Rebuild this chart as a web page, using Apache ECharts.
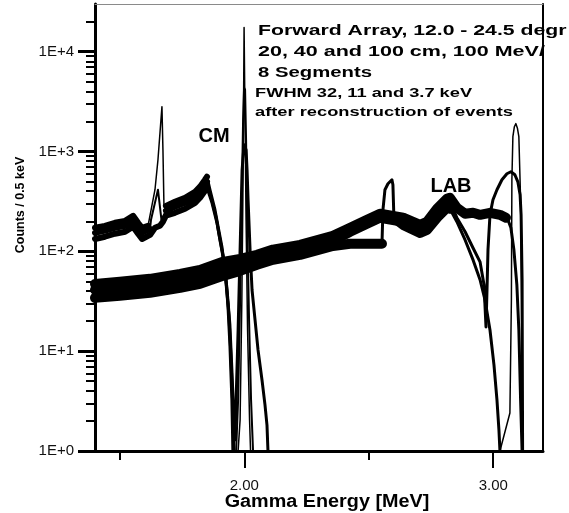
<!DOCTYPE html>
<html><head><meta charset="utf-8">
<script src="https://cdn.jsdelivr.net/npm/echarts@6/dist/echarts.min.js"></script>
<style>html,body{margin:0;padding:0;background:#fff}#c{width:569px;height:513px}</style>
</head><body><div id="c"></div>
<script>
// ---- tick values ----
const xMajorTicks = [2.0, 3.0];
const xMinorTicks = [1.5, 2.5];
const yMajorTicks = [1, 10, 100, 1000, 10000];
const yMinorTicks = [2,3,4,5,6,7,8,9,20,30,40,50,60,70,80,90,200,300,400,500,600,700,800,900,
  2000,3000,4000,5000,6000,7000,8000,9000,20000];

// ---- CM spectra (Doppler reconstructed) : [energy MeV, counts] ----
const cm100Band1 = [[1.400,172],[1.440,180],[1.480,193],[1.521,202],[1.553,227],[1.573,193],[1.589,172],[1.613,180]];
const cm100Spike = [[1.613,180],[1.641,414],[1.653,827],[1.665,2080],[1.669,2810],[1.673,1042],[1.677,292],[1.685,285]];
const cm100Band2 = [[1.685,285],[1.721,313],[1.762,344],[1.802,395],[1.822,444],[1.842,521],[1.850,558]];
const cm100Tail  = [[1.850,558],[1.862,414],[1.882,261],[1.894,180],[1.910,111],[1.922,65],[1.934,29],[1.942,11.6],[1.950,3.25],[1.954,1]];
const cm100Peak  = [[1.975,1],[1.983,2.05],[1.990,32.6],[1.994,328],[1.997,3300],[1.999,17400],[2.002,3300],[2.007,207],[2.013,16.3],[2.021,2.05],[2.025,1]];

const cm40Band1 = [[1.400,153],[1.440,161],[1.480,172],[1.521,180],[1.553,202],[1.573,172],[1.589,153],[1.621,168]];
const cm40Spike = [[1.621,168],[1.625,207],[1.653,414],[1.661,414],[1.667,207],[1.685,255]];
const cm40Band2 = [[1.685,255],[1.721,279],[1.762,306],[1.802,352],[1.822,395],[1.842,464],[1.850,497]];
const cm40Tail  = [[1.850,497],[1.866,352],[1.886,222],[1.898,150],[1.914,92],[1.926,52],[1.938,23],[1.946,9.2],[1.954,2.58],[1.958,1]];
const cm40Peak  = [[1.967,1],[1.975,3.25],[1.983,32.6],[1.991,521],[1.995,2080],[1.999,4355],[2.003,4157],[2.007,1312],[2.011,207],[2.019,20.6],[2.027,3.25],[2.035,1]];

const cm20Band = [[1.400,133],[1.440,140],[1.480,150],[1.521,157],[1.553,176],[1.573,150],[1.589,133],[1.621,146],[1.641,172],[1.661,180],[1.673,198],[1.685,227],[1.721,243],[1.762,267],[1.802,306],[1.822,344],[1.842,404],[1.850,433]];
const cm20Tail = [[1.850,433],[1.870,306],[1.890,193],[1.902,130],[1.918,78.5],[1.930,43],[1.942,18.3],[1.950,6.5],[1.958,2.05],[1.962,1.29],[1.967,3.25],[1.975,16.3],[1.983,104],[1.991,650],[1.999,1169],[2.003,1220],[2.007,1042],[2.011,650],[2.015,328],[2.023,104],[2.031,41],[2.043,20.6],[2.055,10.3],[2.071,5.15],[2.083,2.9],[2.091,1.82],[2.095,1]];

// ---- LAB spectra (no correction) ----
const lab20Band = [[1.400,47.2],[1.500,49.5],[1.621,53.0],[1.742,59.5],[1.822,65.0],[1.914,78.5],[1.983,84.1],[2.051,92.2],[2.115,104],[2.224,116],[2.356,143],[2.425,172],[2.493,207],[2.545,238],[2.638,217],[2.706,184],[2.734,198],[2.774,267],[2.814,336],[2.826,344],[2.854,273],[2.887,238],[2.919,243],[2.947,232],[2.987,243],[3.027,232],[3.051,217]];
const lab20Tail = [[3.051,217],[3.059,207],[3.071,172],[3.083,104],[3.095,46],[3.103,16.3],[3.110,3.25],[3.116,1]];
const lab40Band = [[1.400,41.1],[1.500,42.1],[1.621,45.1],[1.742,50.6],[1.822,55.5],[1.914,66.8],[1.983,73.2],[2.051,82.2],[2.115,92.2],[2.224,104],[2.356,127],[2.425,157],[2.493,189],[2.545,217],[2.638,198],[2.706,168],[2.734,180],[2.774,243],[2.814,306],[2.826,306]];
const lab40Tail = [[2.826,306],[2.854,217],[2.887,157],[2.919,108],[2.947,78.5],[2.963,46.2],[2.971,17.5],[2.975,41],[2.979,104],[2.987,232],[2.999,328],[3.015,414],[3.035,521],[3.055,598],[3.071,627],[3.087,585],[3.099,497],[3.108,368],[3.112,232],[3.116,52],[3.118,1]];
const lab100Band1 = [[1.400,34.2],[1.500,35.8],[1.621,38.4],[1.742,43.1],[1.822,47.2],[1.914,56.8],[1.983,63.7],[2.051,73.2],[2.115,82.2],[2.224,92.2],[2.356,113],[2.425,119],[2.493,119],[2.553,119]];
const lab100Box = [[2.553,119],[2.557,261],[2.565,414],[2.577,475],[2.593,521],[2.597,464],[2.601,217]];
const lab100Band2 = [[2.601,217],[2.638,184],[2.706,153],[2.734,164],[2.774,217],[2.814,273],[2.826,267]];
const lab100Tail = [[2.826,267],[2.854,198],[2.887,130],[2.919,82],[2.947,52],[2.967,32.6],[2.987,16.3],[3.003,7.3],[3.015,3.25],[3.023,1.62],[3.027,1]];
const lab100Peak = [[3.027,1],[3.067,2.4],[3.073,32.6],[3.075,521],[3.079,1406],[3.085,1770],[3.091,1900],[3.097,1720],[3.103,1406],[3.110,328],[3.114,32.6],[3.117,1]];

function line(name, data, width) {
  return { name, type: 'line', data, symbol: 'none', silent: true, clip: true,
    lineStyle: { color: '#000', width, join: 'round', cap: 'round' } };
}
const series = [
  line('LAB 20 cm', lab20Band, 10), line('LAB 20 cm', lab20Tail, 3),
  line('LAB 40 cm', lab40Band, 10), line('LAB 40 cm', lab40Tail, 3),
  line('LAB 100 cm', lab100Band1, 10), line('LAB 100 cm', lab100Box, 3),
  line('LAB 100 cm', lab100Band2, 10), line('LAB 100 cm', lab100Tail, 3),
  line('LAB 100 cm', lab100Peak, 1.5),
  line('CM 20 cm', cm20Band, 6), line('CM 20 cm', cm20Tail, 3),
  line('CM 40 cm', cm40Band1, 6), line('CM 40 cm', cm40Spike, 2), line('CM 40 cm', cm40Band2, 6),
  line('CM 40 cm', cm40Tail, 3), line('CM 40 cm', cm40Peak, 2),
  line('CM 100 cm', cm100Band1, 6), line('CM 100 cm', cm100Spike, 1.5), line('CM 100 cm', cm100Band2, 6),
  line('CM 100 cm', cm100Tail, 3), line('CM 100 cm', cm100Peak, 1.5)
];

const FONT = '"Liberation Sans", Arial, sans-serif';
const chart = echarts.init(document.getElementById('c'), null, { renderer: 'canvas' });
chart.setOption({
  animation: false,
  backgroundColor: '#fff',
  grid: { left: 95, right: 26, top: 4, bottom: 62, containLabel: false },
  xAxis: [
    { type: 'value', position: 'bottom', min: 1.4, max: 3.2,
      axisLine: { show: true, lineStyle: { color: '#000', width: 3 } },
      axisTick: { show: true, inside: false, length: 17, customValues: xMajorTicks, lineStyle: { color: '#000', width: 2 } },
      axisLabel: { show: true, customValues: xMajorTicks, margin: 27, fontSize: 15, fontFamily: FONT, color: '#111',
        formatter: v => Number(v).toFixed(2) },
      splitLine: { show: false } },
    { type: 'value', position: 'bottom', min: 1.4, max: 3.2,
      axisLine: { show: false },
      axisTick: { show: true, length: 9, customValues: xMinorTicks, lineStyle: { color: '#000', width: 2 } },
      axisLabel: { show: false }, splitLine: { show: false } },
    { type: 'value', position: 'top', min: 1.4, max: 3.2,
      axisLine: { show: true, lineStyle: { color: '#8a8a8a', width: 1 } },
      axisTick: { show: false }, axisLabel: { show: false }, splitLine: { show: false } }
  ],
  yAxis: [
    { type: 'log', logBase: 10, min: 1, max: 30000, position: 'left',
      axisLine: { show: true, lineStyle: { color: '#000', width: 3 } },
      axisTick: { show: true, length: 17, customValues: yMajorTicks, lineStyle: { color: '#000', width: 3 } },
      axisLabel: { show: true, customValues: yMajorTicks, margin: 21, fontSize: 15, fontFamily: FONT, color: '#111',
        formatter: v => '1E+' + Math.round(Math.log10(v)) },
      splitLine: { show: false } },
    { type: 'log', logBase: 10, min: 1, max: 30000, position: 'left',
      axisLine: { show: false },
      axisTick: { show: true, length: 9, customValues: yMinorTicks, lineStyle: { color: '#000', width: 2 } },
      axisLabel: { show: false }, splitLine: { show: false } },
    { type: 'log', logBase: 10, min: 1, max: 30000, position: 'right',
      axisLine: { show: true, lineStyle: { color: '#000', width: 2 } },
      axisTick: { show: false }, axisLabel: { show: false }, splitLine: { show: false } }
  ],
  graphic: [
    { type: 'text', x: 258, y: 31, scaleX: 1.515, style: { text: 'Forward Array, 12.0 - 24.5 degr', font: 'bold 14px ' + FONT, fill: '#000', align: 'left', verticalAlign: 'middle' } },
    { type: 'text', x: 258, y: 52, scaleX: 1.536, style: { text: '20, 40 and 100 cm, 100 MeV/', font: 'bold 14px ' + FONT, fill: '#000', align: 'left', verticalAlign: 'middle' } },
    { type: 'text', x: 258, y: 73.5, scaleX: 1.45, style: { text: '8 Segments', font: 'bold 14px ' + FONT, fill: '#000', align: 'left', verticalAlign: 'middle' } },
    { type: 'text', x: 255, y: 93.5, scaleX: 1.404, style: { text: 'FWHM 32, 11 and 3.7 keV', font: 'bold 13px ' + FONT, fill: '#000', align: 'left', verticalAlign: 'middle' } },
    { type: 'text', x: 255, y: 112.5, scaleX: 1.406, style: { text: 'after reconstruction of events', font: 'bold 13px ' + FONT, fill: '#000', align: 'left', verticalAlign: 'middle' } },
    { type: 'text', x: 214, y: 136, style: { text: 'CM', font: 'bold 20px ' + FONT, fill: '#000', align: 'center', verticalAlign: 'middle' } },
    { type: 'text', x: 451, y: 186, style: { text: 'LAB', font: 'bold 20px ' + FONT, fill: '#000', align: 'center', verticalAlign: 'middle' } },
    { type: 'text', x: 327, y: 502, scaleX: 1.1, style: { text: 'Gamma Energy [MeV]', font: 'bold 18px ' + FONT, fill: '#000', align: 'center', verticalAlign: 'middle' } },
    { type: 'text', x: 21, y: 205, rotation: Math.PI / 2, style: { text: 'Counts / 0.5 keV', font: 'bold 12.5px ' + FONT, fill: '#000', align: 'center', verticalAlign: 'middle' } }
  ],
  series
});
</script>
</body></html>
